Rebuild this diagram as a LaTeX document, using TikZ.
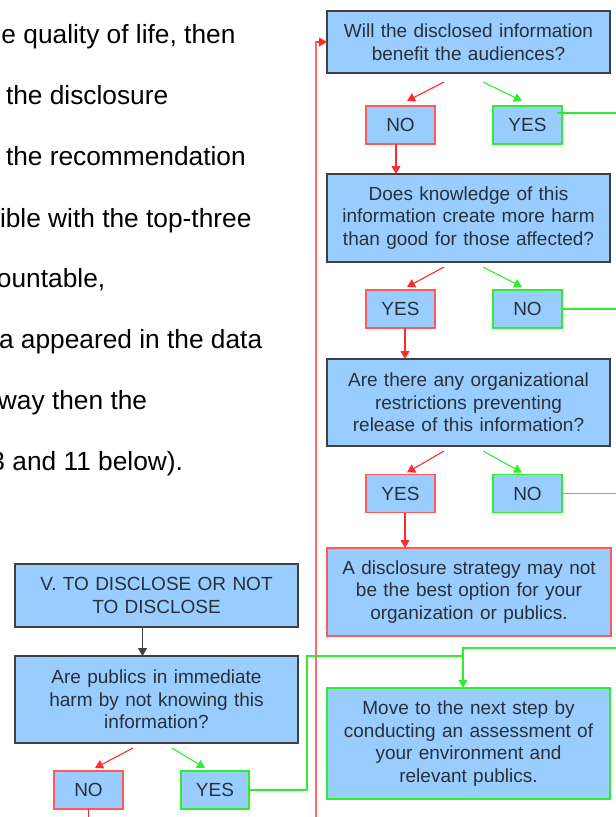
\documentclass[tikz,border=0pt]{standalone}
\usepackage{fontspec}
\setmainfont{Liberation Sans}
\usetikzlibrary{arrows.meta,calc}
\definecolor{boxfill}{HTML}{99CCFF}
\definecolor{boxline}{HTML}{404040}
\definecolor{boxtext}{HTML}{2A3038}
\definecolor{nored}{HTML}{FF5A5A}
\definecolor{arrred}{HTML}{FF2A2A}
\definecolor{railred}{HTML}{FF6A6A}
\definecolor{yesgreen}{HTML}{2EEE2E}

\begin{document}
\begin{tikzpicture}[x=1pt,y=-1pt,
  every node/.style={inner sep=0pt,outer sep=0pt},
  boxtxt/.style={font=\fontsize{19}{22.5}\selectfont,text=boxtext,align=center},
  qbox/.style={boxtxt,draw=boxline,line width=1.3pt,fill=boxfill,
    minimum width=283pt,text width=276pt},
  stopbox/.style={qbox,draw=nored},
  gobox/.style={qbox,draw=yesgreen},
  ansno/.style={boxtxt,draw=nored,line width=1.3pt,fill=boxfill,
    minimum width=69pt,minimum height=38pt},
  ansyes/.style={ansno,draw=yesgreen},
  bodytxt/.style={font=\fontsize{26.3}{30}\selectfont,anchor=base west},
  tip/.style={-{Triangle[width=9pt,length=8pt]}},
  redarr/.style={draw=arrred,line width=1.1pt,tip},
  greenarr/.style={draw=yesgreen,line width=1.1pt,tip},
  blackarr/.style={draw=boxline,line width=1.1pt,tip},
  glink/.style={draw=yesgreen,line width=1.2pt},
  rlink/.style={draw=arrred,line width=1.1pt},
  rail/.style={draw=railred,line width=1.2pt}
]
\useasboundingbox (0,0) rectangle (616,817);

% running text of the page, cut at the left margin
\node[bodytxt] (t1) at (1.5,43) {e quality of life, then};
\node[bodytxt] (t2) at (6,104) {the disclosure};
\node[bodytxt] (t3) at (6,165) {the recommendation};
\node[bodytxt] (t4) at (0,227) {ible with the top-three};
\node[bodytxt] (t5) at (-3,287) {ountable,};
\node[bodytxt] (t6) at (-1,348) {a appeared in the data};
\node[bodytxt] (t7) at (-2,409) {way then the};
\node[bodytxt] (t8) at (-9.5,470) {3 and 11 below).};

% right-hand column of questions
\node[qbox,minimum height=62pt] (q1) at (468.5,42)
  {Will the disclosed information\\benefit the audiences?};
\node[ansno] (n1) at (400.5,125) {NO};
\node[ansyes] (y1) at (527.5,125) {YES};

\node[qbox,minimum height=88pt] (q2) at (468.5,218)
  {Does knowledge of this\\information create more harm\\than good for those affected?};
\node[ansno] (y2) at (400.5,309) {YES};
\node[ansyes] (n2) at (527.5,309) {NO};

\node[qbox,minimum height=87pt] (q3) at (468.5,402.5)
  {Are there any organizational\\restrictions preventing\\release of this information?};
\node[ansno] (y3) at (400.5,493.5) {YES};
\node[ansyes] (n3) at (527.5,493.5) {NO};

\node[stopbox,minimum width=284pt,minimum height=88pt] (s4) at (469,592)
  {A disclosure strategy may not\\be the best option for your\\organization or publics.};
\node[gobox,minimum height=111pt] (m5) at (468.5,743.5)
  {Move to the next step by\\conducting an assessment of\\your environment and\\relevant publics.};

% left-hand start of the chart
\node[qbox,minimum height=63pt] (va) at (156.5,595.5)
  {V. TO DISCLOSE OR NOT\\TO DISCLOSE};
\node[qbox,minimum height=87pt] (vb) at (156.5,699.5)
  {Are publics in immediate\\harm by not knowing this\\information?};
\node[ansno] (na) at (88.5,790) {NO};
\node[ansyes,minimum width=68pt] (ya) at (215,790) {YES};

% free ends leaving the page
\coordinate (erail) at (624,0);
\coordinate (railbot) at (316,824);
\coordinate (nadown) at (88.5,824);
\coordinate (gin) at (624,648);
\coordinate (lbend) at (307,656);

% branches under each question
\draw[redarr] ([xshift=-24.5pt,yshift=-9pt]q1.south) -- ([xshift=6.5pt,yshift=5pt]n1.north);
\draw[greenarr] ([xshift=14.5pt,yshift=-9pt]q1.south) -- ([xshift=-5.5pt,yshift=5pt]y1.north);
\draw[redarr] ([xshift=-24.5pt,yshift=-5pt]q2.south) -- ([xshift=6.5pt,yshift=3pt]y2.north);
\draw[greenarr] ([xshift=14.5pt,yshift=-5pt]q2.south) -- ([xshift=-5.5pt,yshift=3pt]n2.north);
\draw[redarr] ([xshift=-24.5pt,yshift=-5pt]q3.south) -- ([xshift=6.5pt,yshift=2pt]y3.north);
\draw[greenarr] ([xshift=14.5pt,yshift=-5pt]q3.south) -- ([xshift=-5.5pt,yshift=2pt]n3.north);
\draw[redarr] ([xshift=-23.5pt,yshift=-5pt]vb.south) -- ([xshift=6.5pt,yshift=3pt]na.north);
\draw[greenarr] ([xshift=15.5pt,yshift=-5pt]vb.south) -- ([xshift=-10pt,yshift=3pt]ya.north);

% red path downwards
\draw[redarr] ($(n1.south)+(-4.5,0)$) -- ($(n1.south |- q2.north)+(-4.5,0)$);
\draw[redarr] ($(y2.south)+(4.5,0)$) -- ($(y2.south |- q3.north)+(4.5,0)$);
\draw[redarr] ($(y3.south)+(4.5,0)$) -- ($(y3.south |- s4.north)+(4.5,0)$);
\draw[blackarr] ($(va.south)+(-14,0)$) -- ($(va.south |- vb.north)+(-14,0)$);

% red return rail into the first question
\draw[rail] (railbot) |- ($(q1.west)+(-9,0)$);
\draw[redarr] ($(q1.west)+(-10,0)$) -- (q1.west);
\draw[rlink] (na.south) -- (nadown);

% green exits to the next step
\draw[glink] ([xshift=-5pt,yshift=12pt]y1.east) -- ($(y1.east -| erail)+(0,-12)$);
\draw[glink] (n2.east) -- (n2.east -| erail);
\draw[glink] (n3.east) -- (n3.east -| erail);
\draw[greenarr] (gin) -| ($(m5.north)+(-5.5,0)$);
\draw[glink] (ya.east) -| (lbend) -- ($(lbend -| m5.north)+(-5.5,0)$);
\end{tikzpicture}
\end{document}
